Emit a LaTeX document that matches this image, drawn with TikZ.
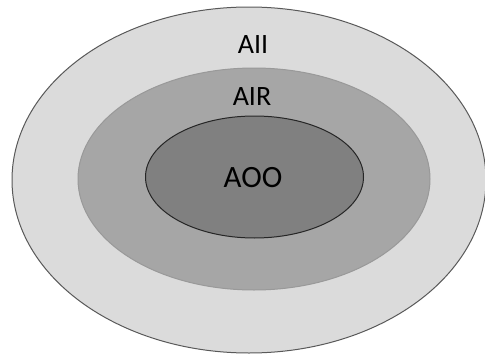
\documentclass[tikz,border=0pt]{standalone}
\usepackage{fontspec}
\setmainfont{Carlito}
\begin{document}
\begin{tikzpicture}[x=1pt,y=-1pt,
  ring/.style={line width=1pt},
  lbl/.style={font=\fontsize{28}{30}\selectfont, text=black, inner sep=0pt}]
\useasboundingbox (0,0) rectangle (485,356);
% outer layer
\draw[ring, fill=black!14, draw=black!65] (249,180) ellipse [x radius=237, y radius=173];
% middle layer
\draw[ring, fill=black!35, draw=black!40] (254,179) ellipse [x radius=176, y radius=111];
% inner layer
\draw[ring, fill=black!50, draw=black!85] (254.5,177) ellipse [x radius=109, y radius=61];
\node[lbl] (all) at (253,45) {AII};
\node[lbl] (air) at (252,97) {AIR};
\node[lbl, font=\fontsize{31}{33}\selectfont] (aoo) at (253,178) {AOO};
\end{tikzpicture}
\end{document}
